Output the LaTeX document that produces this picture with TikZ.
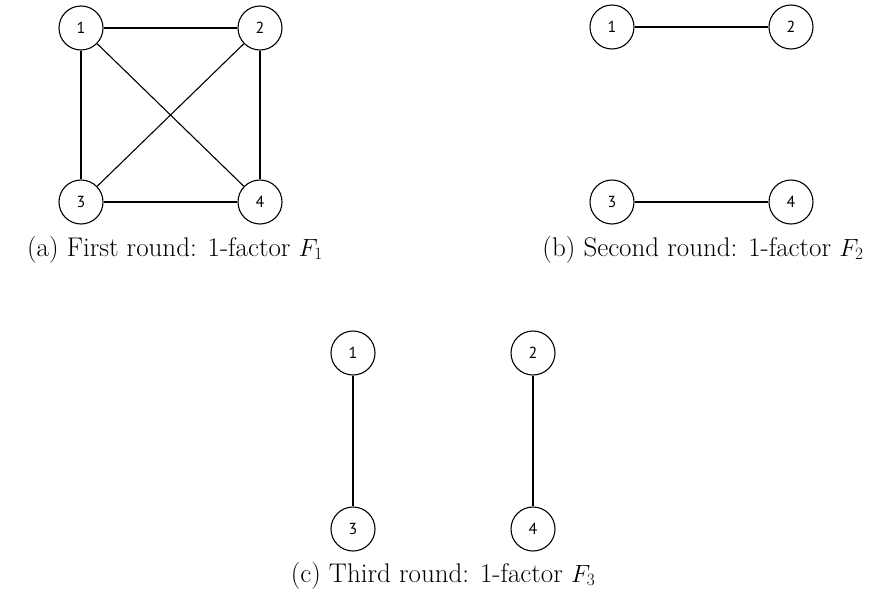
\documentclass[tikz,border=0pt]{standalone}
\usepackage{fontspec}
\newfontfamily\nodefont{PT Sans}
\begin{document}
\begin{tikzpicture}[x=1pt,y=-1pt,
  vertex/.style={circle,draw,line width=1.1pt,minimum size=44pt,inner sep=0pt,font=\nodefont\fontsize{16}{16}\selectfont},
  edge/.style={line width=1.1pt},
  captext/.style={font=\fontsize{27}{30}\selectfont,anchor=base,inner sep=0pt}]
\useasboundingbox (0,0) rectangle (879,592);
% (a)
\node[vertex] (a1) at (81,28) {1};
\node[vertex] (a2) at (260,28) {2};
\node[vertex] (a3) at (81,202) {3};
\node[vertex] (a4) at (260,202) {4};
\draw[edge] (a1) -- (a2);
\draw[edge] (a1) -- (a3);
\draw[edge] (a1) -- (a4);
\draw[edge] (a2) -- (a3);
\draw[edge] (a2) -- (a4);
\draw[edge] (a3) -- (a4);
\node[captext] (capa) at (175,256) {(a) First round: 1-factor $F_1$};
% (b)
\node[vertex] (b1) at (612,27) {1};
\node[vertex] (b2) at (791,27) {2};
\node[vertex] (b3) at (612,202) {3};
\node[vertex] (b4) at (791,202) {4};
\draw[edge] (b1) -- (b2);
\draw[edge] (b3) -- (b4);
\node[captext] (capb) at (703,256) {(b) Second round: 1-factor $F_2$};
% (c)
\node[vertex] (c1) at (353,353) {1};
\node[vertex] (c2) at (533,353) {2};
\node[vertex] (c3) at (353,529) {3};
\node[vertex] (c4) at (533,529) {4};
\draw[edge] (c1) -- (c3);
\draw[edge] (c2) -- (c4);
\node[captext] (capc) at (443,582) {(c) Third round: 1-factor $F_3$};
\end{tikzpicture}
\end{document}
